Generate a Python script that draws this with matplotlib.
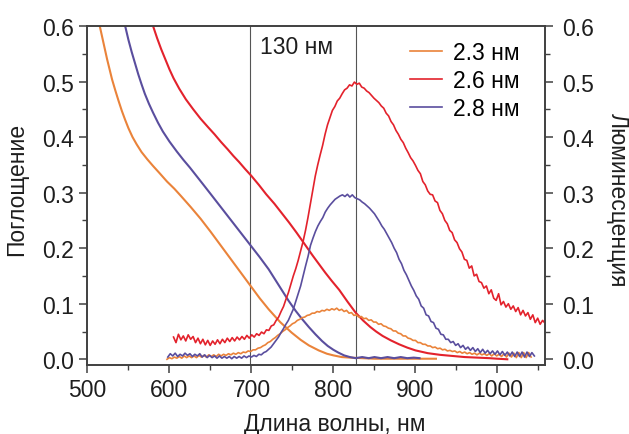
import numpy as np
import matplotlib
matplotlib.use("Agg")
import matplotlib.pyplot as plt
from matplotlib.ticker import MultipleLocator, FormatStrFormatter

plt.rcParams['font.family'] = ['Liberation Sans', 'DejaVu Sans']

# ---------------- data ----------------
sizes = ["2.3 нм", "2.6 нм", "2.8 нм"]
colors = ["#EA833A", "#E3222C", "#5A4E9E"]

# absorption spectra (wavelength, optical density)
abs_23_x = [515, 518, 521, 524, 527, 530, 534, 538, 542, 546, 550, 555, 560, 566,
            573, 580, 588, 597, 606, 614, 626, 638, 650, 660, 670, 679, 690, 700,
            710, 721, 735, 749, 760, 770, 782, 792, 800, 810, 820, 835, 850, 925]
abs_23_y = [0.600, 0.580, 0.560, 0.540, 0.522, 0.504, 0.484, 0.465, 0.447, 0.431,
            0.416, 0.400, 0.387, 0.373, 0.360, 0.348, 0.335, 0.320, 0.307, 0.294,
            0.274, 0.253, 0.230, 0.210, 0.190, 0.172, 0.150, 0.130, 0.110, 0.090,
            0.067, 0.048, 0.035, 0.025, 0.016, 0.010, 0.007, 0.004, 0.003, 0.002,
            0.001, 0.001]

abs_26_x = [580, 585, 590, 595, 600, 605, 612, 620, 629, 638, 647, 655, 663, 671,
            678, 685, 692, 700, 709, 718, 728, 737, 746, 755, 765, 775, 783, 790,
            798, 807, 817, 827, 836, 845, 852, 860, 870, 880, 890, 900, 915, 930,
            945, 960, 975, 990, 1000, 1012]
abs_26_y = [0.600, 0.578, 0.558, 0.540, 0.522, 0.506, 0.487, 0.468, 0.450, 0.433,
            0.418, 0.405, 0.391, 0.378, 0.366, 0.355, 0.343, 0.330, 0.314, 0.297,
            0.280, 0.263, 0.246, 0.228, 0.207, 0.186, 0.170, 0.156, 0.141, 0.125,
            0.104, 0.084, 0.070, 0.058, 0.050, 0.042, 0.034, 0.027, 0.021, 0.016,
            0.011, 0.008, 0.006, 0.004, 0.003, 0.002, 0.001, 0.000]

abs_28_x = [546, 550, 554, 558, 562, 566, 570, 575, 580, 586, 592, 600, 609, 617,
            625, 633, 641, 650, 660, 670, 680, 690, 700, 710, 721, 733, 745, 754,
            762, 770, 778, 786, 793, 800, 806, 813, 820, 827, 835, 843, 850, 858,
            866, 874, 882, 890, 898, 905]
abs_28_y = [0.600, 0.575, 0.553, 0.533, 0.513, 0.495, 0.478, 0.460, 0.444, 0.426,
            0.410, 0.392, 0.374, 0.359, 0.345, 0.330, 0.315, 0.298, 0.279, 0.260,
            0.241, 0.222, 0.203, 0.184, 0.162, 0.134, 0.106, 0.087, 0.072, 0.058,
            0.045, 0.033, 0.024, 0.017, 0.012, 0.007, 0.004, 0.002, 0.004, 0.002,
            0.004, 0.002, 0.004, 0.002, 0.004, 0.002, 0.003, 0.002]

# luminescence spectra, sampled on an even wavelength grid
lum_23_range = (597, 1041)
lum_23 = [0.000, 0.003, 0.001, 0.004, 0.002, 0.005, 0.002, 0.006, 0.003, 0.006,
          0.003, 0.006, 0.003, 0.007, 0.004, 0.007, 0.004, 0.008, 0.005, 0.008,
          0.005, 0.009, 0.006, 0.009, 0.007, 0.010, 0.008, 0.011, 0.009, 0.012,
          0.010, 0.013, 0.012, 0.015, 0.014, 0.017, 0.017, 0.020, 0.021, 0.024,
          0.026, 0.030, 0.032, 0.036, 0.039, 0.043, 0.046, 0.050, 0.053, 0.057,
          0.060, 0.064, 0.066, 0.070, 0.072, 0.075, 0.076, 0.079, 0.080, 0.083,
          0.083, 0.086, 0.085, 0.088, 0.087, 0.090, 0.088, 0.091, 0.089, 0.092,
          0.088, 0.090, 0.086, 0.088, 0.083, 0.084, 0.079, 0.080, 0.076, 0.077,
          0.073, 0.074, 0.070, 0.071, 0.067, 0.067, 0.063, 0.064, 0.060, 0.059,
          0.056, 0.055, 0.051, 0.051, 0.047, 0.046, 0.042, 0.042, 0.038, 0.037,
          0.034, 0.034, 0.030, 0.030, 0.027, 0.027, 0.024, 0.024, 0.021, 0.022,
          0.019, 0.020, 0.017, 0.018, 0.015, 0.016, 0.014, 0.015, 0.012, 0.014,
          0.011, 0.013, 0.010, 0.012, 0.009, 0.011, 0.008, 0.011, 0.008, 0.010,
          0.007, 0.010, 0.006, 0.010, 0.006, 0.009, 0.005, 0.010, 0.004, 0.011,
          0.004, 0.011, 0.003, 0.012, 0.003, 0.012, 0.003, 0.012, 0.004]

lum_26_range = (605, 1058)
lum_26 = [0.040, 0.030, 0.045, 0.035, 0.042, 0.033, 0.044, 0.036, 0.041, 0.030,
          0.038, 0.028, 0.036, 0.026, 0.034, 0.025, 0.033, 0.027, 0.035, 0.028,
          0.036, 0.030, 0.038, 0.032, 0.039, 0.033, 0.040, 0.035, 0.041, 0.036,
          0.043, 0.038, 0.044, 0.040, 0.046, 0.043, 0.049, 0.046, 0.053, 0.052,
          0.060, 0.062, 0.070, 0.076, 0.086, 0.095, 0.108, 0.120, 0.135, 0.150,
          0.163, 0.178, 0.195, 0.212, 0.232, 0.255, 0.280, 0.305, 0.330, 0.350,
          0.368, 0.385, 0.405, 0.422, 0.435, 0.448, 0.455, 0.465, 0.470, 0.478,
          0.485, 0.488, 0.494, 0.492, 0.499, 0.495, 0.497, 0.490, 0.488, 0.483,
          0.480, 0.475, 0.470, 0.466, 0.462, 0.456, 0.452, 0.443, 0.438, 0.428,
          0.422, 0.412, 0.405, 0.396, 0.390, 0.380, 0.372, 0.363, 0.357, 0.349,
          0.340, 0.334, 0.320, 0.314, 0.303, 0.297, 0.296, 0.285, 0.282, 0.268,
          0.262, 0.250, 0.244, 0.232, 0.228, 0.215, 0.210, 0.199, 0.193, 0.180,
          0.178, 0.164, 0.168, 0.150, 0.153, 0.140, 0.138, 0.128, 0.132, 0.118,
          0.125, 0.110, 0.106, 0.118, 0.098, 0.104, 0.094, 0.100, 0.090, 0.096,
          0.086, 0.093, 0.080, 0.088, 0.078, 0.084, 0.072, 0.080, 0.066, 0.074,
          0.063, 0.070, 0.065]

lum_28_range = (598, 1045)
lum_28 = [0.004, 0.010, 0.006, 0.011, 0.005, 0.009, 0.006, 0.011, 0.007, 0.010,
          0.005, 0.009, 0.006, 0.010, 0.004, 0.008, 0.003, 0.007, 0.003, 0.006,
          0.002, 0.006, 0.002, 0.005, 0.002, 0.005, 0.001, 0.005, 0.002, 0.005,
          0.002, 0.006, 0.003, 0.006, 0.004, 0.007, 0.005, 0.009, 0.008, 0.012,
          0.014, 0.018, 0.022, 0.028, 0.034, 0.040, 0.048, 0.055, 0.063, 0.070,
          0.080, 0.090, 0.104, 0.118, 0.132, 0.150, 0.168, 0.185, 0.205, 0.218,
          0.230, 0.240, 0.248, 0.255, 0.265, 0.272, 0.278, 0.283, 0.288, 0.291,
          0.294, 0.296, 0.293, 0.297, 0.292, 0.296, 0.291, 0.289, 0.287, 0.283,
          0.280, 0.276, 0.272, 0.267, 0.262, 0.255, 0.248, 0.240, 0.234, 0.226,
          0.218, 0.210, 0.200, 0.192, 0.180, 0.172, 0.160, 0.152, 0.142, 0.132,
          0.124, 0.114, 0.108, 0.096, 0.092, 0.080, 0.078, 0.068, 0.066, 0.056,
          0.054, 0.045, 0.044, 0.036, 0.036, 0.030, 0.032, 0.025, 0.028, 0.021,
          0.025, 0.018, 0.022, 0.016, 0.021, 0.014, 0.019, 0.012, 0.018, 0.011,
          0.016, 0.010, 0.015, 0.009, 0.015, 0.008, 0.014, 0.007, 0.013, 0.006,
          0.013, 0.005, 0.013, 0.005, 0.013, 0.004, 0.013, 0.005, 0.012, 0.006]

marker_lines = [698, 828]
marker_text = "130 нм"

x_ticks = [500, 600, 700, 800, 900, 1000]
y_ticks = [0.0, 0.1, 0.2, 0.3, 0.4, 0.5, 0.6]

# ---------------- figure ----------------
FS = 16.5
text_col = "#1e1e1e"
spine_col = "#404040"

fig = plt.figure(figsize=(6.29, 4.35), dpi=100)
ax = fig.add_axes([0.139, 0.159, 0.7275, 0.779])
ax2 = ax.twinx()

for a in (ax, ax2):
    for s in a.spines.values():
        s.set_color(spine_col)
        s.set_linewidth(1.2)

abs_sets = [(abs_23_x, abs_23_y), (abs_26_x, abs_26_y), (abs_28_x, abs_28_y)]
for (xs, ys), c in zip(abs_sets, colors):
    ax.plot(xs, ys, color=c, lw=1.5, solid_joinstyle="round")

lum_sets = [(lum_23_range, lum_23), (lum_26_range, lum_26), (lum_28_range, lum_28)]
for (rng, ys), c in zip(lum_sets, colors):
    xs = np.linspace(rng[0], rng[1], len(ys))
    ax2.plot(xs, ys, color=c, lw=1.2)

for xv in marker_lines:
    ax.axvline(xv, color="#555555", lw=0.8, zorder=0)
ax.text(710, 0.563, marker_text, fontsize=FS, color=text_col, va="center", ha="left")

for a in (ax, ax2):
    a.set_xlim(500, 1058)
    a.set_ylim(-0.01, 0.6)
    a.yaxis.set_minor_locator(MultipleLocator(0.05))
    a.set_yticks(y_ticks)
    a.yaxis.set_major_formatter(FormatStrFormatter("%.1f"))

ax.set_xticks(x_ticks)
ax.xaxis.set_minor_locator(MultipleLocator(50))

ax.tick_params(axis="both", which="major", direction="out", length=6, width=1.1,
               color=spine_col, labelsize=FS, labelcolor=text_col, pad=3.5)
ax.tick_params(axis="both", which="minor", direction="out", length=3.5, width=1.0,
               color=spine_col)
ax.tick_params(axis="x", top=False, which="both")
ax2.tick_params(axis="y", which="major", direction="out", length=6, width=1.1,
                color=spine_col, labelsize=FS, labelcolor=text_col, pad=6)
ax2.tick_params(axis="y", which="minor", direction="out", length=3.5, width=1.0,
                color=spine_col)

ax.set_xlabel("Длина волны, нм", fontsize=FS, color=text_col, labelpad=8)
ax.xaxis.label.set_x(0.54)
ax.set_ylabel("Поглощение", fontsize=FS, color=text_col, labelpad=10)
ax.yaxis.label.set_y(0.52)
ax2.set_ylabel("Люминесценция", fontsize=FS, color=text_col, rotation=270,
               labelpad=25)
ax2.yaxis.label.set_y(0.49)

handles = [plt.Line2D([], [], color=c, lw=1.2) for c in colors]
ax2.legend(handles, sizes, loc="upper right", bbox_to_anchor=(0.975, 0.995),
           frameon=False, fontsize=FS, handlelength=1.4, handletextpad=0.5,
           labelspacing=0.22, borderaxespad=0.2)

fig.savefig("out.png", dpi=100)
